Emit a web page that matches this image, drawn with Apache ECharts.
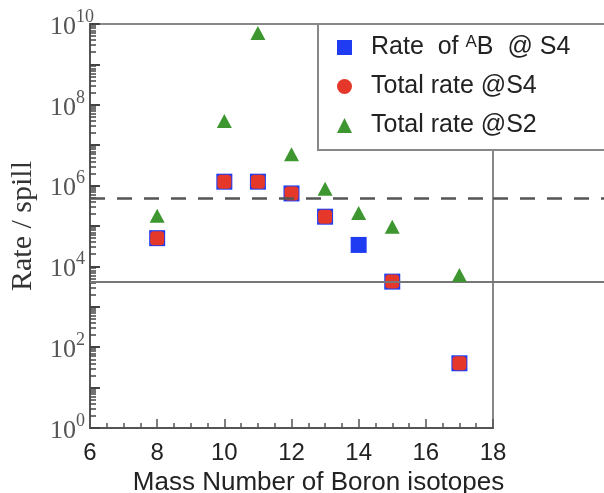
<!DOCTYPE html>
<html>
<head>
<meta charset="utf-8">
<script src="https://cdn.jsdelivr.net/npm/echarts@6/dist/echarts.min.js"></script>
<style>html,body{margin:0;padding:0;background:#fff}#c{width:604px;height:493px}</style>
</head>
<body>
<div id="c"></div>
<script>
// ---- data ----
const massAB = [8, 10, 11, 12, 13, 14, 15, 17];
const rateAB = [5.0e4, 1.25e6, 1.25e6, 6.4e5, 1.7e5, 3.4e4, 4.2e3, 40];
const massS4 = [8, 10, 11, 12, 13, 15, 17];
const totalS4 = [5.0e4, 1.25e6, 1.25e6, 6.4e5, 1.7e5, 4.2e3, 40];
const massS2 = [8, 10, 11, 12, 13, 14, 15, 17];
const totalS2 = [1.8e5, 4.0e7, 6.0e9, 6.0e6, 8.3e5, 2.1e5, 9.6e4, 6.1e3];
const refSolid = 4.2e3;
const refDashed = 4.85e5;
const seriesNames = ['Rate  of AB  @ S4', 'Total rate @S4', 'Total rate @S2'];
const xTitle = 'Mass Number of Boron isotopes';
const yTitle = 'Rate / spill';
// logarithmic minor tick positions (2..9 x 10^k)
const minorMantissas = [2, 3, 4, 5, 6, 7, 8, 9];
const decades = [0, 1, 2, 3, 4, 5, 6, 7, 8, 9];
const yMinorTicks = [];
decades.forEach(k => minorMantissas.forEach(m => yMinorTicks.push(m * Math.pow(10, k))));

const zip = (xs, ys) => xs.map((x, i) => [x, ys[i]]);

const chart = echarts.init(document.getElementById('c'));
const refLines = [
  { yAxis: refSolid, lineStyle: { type: 'solid', color: '#777', width: 2 } },
  { yAxis: refDashed, lineStyle: { type: [15, 12], color: '#555', width: 2.5 } }
];
const mlBase = { silent: true, symbol: ['none', 'none'], label: { show: false }, data: refLines };
const legendFont = { fontFamily: 'Liberation Sans, Arial', fontSize: 25, color: '#222' };

chart.setOption({
  animation: false,
  backgroundColor: '#fff',
  grid: [
    { left: 90, right: 111, top: 24, bottom: 65, show: true, borderColor: '#888', borderWidth: 2, outerBoundsMode: 'none', containLabel: false },
    { left: 493, right: 0, top: 24, bottom: 65, show: false, outerBoundsMode: 'none', containLabel: false }
  ],
  legend: {
    left: 318, top: 24, orient: 'vertical',
    padding: [10, 60, 12, 19],
    itemGap: 14, itemWidth: 15, itemHeight: 15,
    backgroundColor: '#fff', borderColor: '#888', borderWidth: 2,
    textStyle: Object.assign({}, legendFont, {
      rich: {
        t: Object.assign({}, legendFont, { padding: [0, 0, 0, 14] }),
        n: Object.assign({}, legendFont),
        sup: { fontFamily: 'Liberation Sans', fontSize: 17, color: '#222', verticalAlign: 'top', padding: [0, 0, 10, 0] }
      }
    }),
    formatter: function (n) {
      if (n === seriesNames[0]) return '{t|Rate  of }{sup|A}{n|B  @ S4}';
      return '{t|' + n + '}';
    },
    data: [
      { name: seriesNames[0], icon: 'rect' },
      { name: seriesNames[1], icon: 'circle' },
      { name: seriesNames[2], icon: 'triangle' }
    ]
  },
  xAxis: [
    {
      gridIndex: 0, type: 'value', min: 6, max: 18, interval: 2,
      name: xTitle, nameLocation: 'middle', nameGap: 31,
      nameTextStyle: { fontFamily: 'Liberation Sans, Arial', fontSize: 26, color: '#222', padding: [0, 0, 0, 54] },
      axisLine: { lineStyle: { color: '#555', width: 2 } },
      axisTick: { inside: true, length: 9, lineStyle: { color: '#555', width: 1.5 } },
      minorTick: { show: true, splitNumber: 4, length: 5, lineStyle: { color: '#555', width: 1.5 } },
      axisLabel: { margin: 13, fontFamily: 'Liberation Sans, Arial', fontSize: 24, color: '#222' },
      splitLine: { show: false }
    },
    { gridIndex: 1, type: 'value', min: 0, max: 1, show: false }
  ],
  yAxis: [
    {
      gridIndex: 0, type: 'log', logBase: 10, min: 1, max: 1e10, interval: 1,
      name: yTitle, nameLocation: 'middle', nameGap: 52,
      nameTextStyle: { fontFamily: 'Liberation Serif, Times New Roman', fontSize: 30, color: '#333' },
      axisLine: { show: true, lineStyle: { color: '#555', width: 2 } },
      axisTick: { inside: true, length: 10, lineStyle: { color: '#444', width: 2 } },
      minorTick: { show: false },
      axisLabel: {
        margin: 40, align: 'left',
        formatter: function (v) {
          const e = Math.round(Math.log10(v));
          return e % 2 === 0 ? '{b|10}{s|' + e + '}' : '';
        },
        rich: {
          b: { fontFamily: 'Liberation Serif', fontSize: 26, color: '#555', verticalAlign: 'bottom', padding: [6, 0, 0, 0] },
          s: { fontFamily: 'Liberation Serif', fontSize: 18, color: '#555', verticalAlign: 'top' }
        }
      },
      splitLine: { show: false }
    },
    { gridIndex: 1, type: 'log', logBase: 10, min: 1, max: 1e10, show: false },
    {
      gridIndex: 0, type: 'log', logBase: 10, min: 1, max: 1e10, position: 'left', offset: 0,
      axisLine: { show: false },
      axisTick: { show: true, inside: true, length: 6, customValues: yMinorTicks, lineStyle: { color: '#444', width: 1.5 } },
      axisLabel: { show: false },
      minorTick: { show: false },
      splitLine: { show: false }
    }
  ],
  series: [
    {
      name: seriesNames[0], type: 'scatter', xAxisIndex: 0, yAxisIndex: 0,
      symbol: 'rect', symbolSize: 16, itemStyle: { color: '#1f3cf2', opacity: 1 },
      data: zip(massAB, rateAB), z: 3, markLine: mlBase
    },
    {
      name: seriesNames[1], type: 'scatter', xAxisIndex: 0, yAxisIndex: 0,
      symbol: 'roundRect', symbolSize: 14, itemStyle: { color: '#e5382a', opacity: 1 },
      data: zip(massS4, totalS4), z: 4
    },
    {
      name: seriesNames[2], type: 'scatter', xAxisIndex: 0, yAxisIndex: 0,
      symbol: 'triangle', symbolSize: [15, 14], itemStyle: { color: '#3d9630', opacity: 1 },
      data: zip(massS2, totalS2), z: 5
    },
    {
      name: 'ref-ext', type: 'scatter', xAxisIndex: 1, yAxisIndex: 1,
      symbolSize: 0, silent: true, data: [[0.5, 1]], markLine: mlBase
    }
  ]
});
</script>
</body>
</html>
